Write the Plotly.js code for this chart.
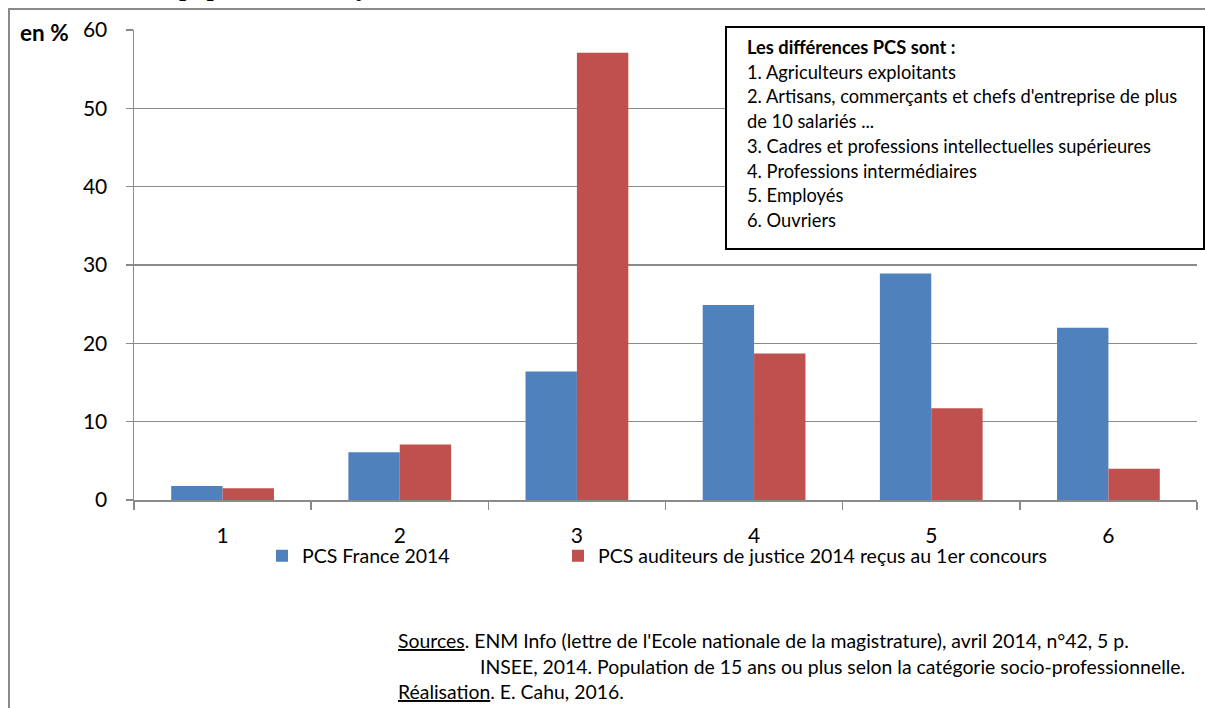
<!DOCTYPE html>
<html>
<head>
<meta charset="utf-8">
<script src="https://cdn.plot.ly/plotly-3.0.1.min.js"></script>
<style>
html,body{margin:0;padding:0;background:#fff;}
#chart{width:1205px;height:708px;}
</style>
</head>
<body>
<div id="chart"></div>
<script>
// ---- data ----
var categories = ["1", "2", "3", "4", "5", "6"];
var pcsFrance = [1.8, 6.1, 16.4, 24.9, 28.9, 22.0];
var pcsAuditeurs = [1.5, 7.1, 57.1, 18.7, 11.7, 4.0];
var seriesNames = ["PCS France 2014", "PCS auditeurs de justice 2014 reçus au 1er concours"];
var yTicks = [0, 10, 20, 30, 40, 50, 60];
var boxTitle = "Les différences PCS sont :";
var boxLines = [
  "1. Agriculteurs exploitants",
  "2. Artisans, commerçants et chefs d'entreprise de plus",
  "de 10 salariés ...",
  "3. Cadres et professions intellectuelles supérieures",
  "4. Professions intermédiaires",
  "5. Employés",
  "6. Ouvriers"
];
var sourceLines = [
  "<u>Sources</u>. ENM Info (lettre de l'Ecole nationale de la magistrature), avril 2014, n°42, 5 p.",
  "INSEE, 2014. Population de 15 ans ou plus selon la catégorie socio-professionnelle.",
  "<u>Réalisation</u>. E. Cahu, 2016."
];
var topTitle = "ne et la population française.";
var yUnit = "en %";

// ---- geometry helpers (page pixels -> paper) ----
var W = 1205, H = 708;
var L = 134, R = 1197, T = 30, B = 500;
function px(x) { return (x - L) / (R - L); }
function py(y) { return (B - y) / (B - T); }

var FONT = "Lato, 'Open Sans', sans-serif";
var grid = "#8a8a8a";

var traces = [
  {type: "bar", x: categories, y: pcsFrance, name: seriesNames[0], legend: "legend",
   marker: {color: "#4F81BD", line: {width: 0}}},
  {type: "bar", x: categories, y: pcsAuditeurs, name: seriesNames[1], legend: "legend2",
   marker: {color: "#C0504D", line: {width: 0}}}
];

var annotations = [];
// top clipped title
annotations.push({xref: "paper", yref: "paper", x: px(415), y: py(4),
  xanchor: "right", yanchor: "bottom", showarrow: false, text: "<b>" + topTitle + "</b>",
  font: {family: "'Liberation Serif', serif", size: 26, color: "#000"}});
// y unit
annotations.push({xref: "paper", yref: "paper", x: px(18), y: py(33),
  xanchor: "left", yanchor: "middle", showarrow: false, text: "<b>" + yUnit + "</b>",
  font: {family: FONT, size: 22.5, color: "#000"}});
// box text
var boxY0 = 47, boxDy = 24.7, boxFont = 18.3;
annotations.push({xref: "paper", yref: "paper", x: px(745), y: py(boxY0),
  xanchor: "left", yanchor: "middle", showarrow: false, text: "<b>" + boxTitle + "</b>",
  font: {family: FONT, size: boxFont, color: "#000"}});
boxLines.forEach(function (t, i) {
  annotations.push({xref: "paper", yref: "paper", x: px(745), y: py(boxY0 + boxDy * (i + 1)),
    xanchor: "left", yanchor: "middle", showarrow: false, text: t,
    font: {family: FONT, size: boxFont, color: "#000"}});
});
// sources
var srcX = [396, 478, 396], srcY = [640, 666, 691];
sourceLines.forEach(function (t, i) {
  annotations.push({xref: "paper", yref: "paper", x: px(srcX[i]), y: py(srcY[i]),
    xanchor: "left", yanchor: "middle", showarrow: false, text: t,
    font: {family: FONT, size: 19.4, color: "#000"}});
});

var shapes = [
  // outer frame
  {type: "rect", xref: "paper", yref: "paper", x0: px(9), y0: py(9), x1: px(1212), y1: py(720),
   line: {color: "#8a8a8a", width: 2}, fillcolor: "rgba(0,0,0,0)", layer: "below"},
  // text box
  {type: "rect", xref: "paper", yref: "paper", x0: px(726), y0: py(27), x1: px(1204), y1: py(249),
   line: {color: "#000", width: 2}, fillcolor: "#fff", layer: "above"}
];

var legendFont = {family: FONT, size: 19.5, color: "#000"};
var layout = {
  width: W, height: H,
  margin: {l: L, r: W - R, t: T, b: H - B, pad: 0},
  paper_bgcolor: "#fff", plot_bgcolor: "#fff",
  font: {family: FONT, color: "#000"},
  barmode: "group", bargap: 0.42, bargroupgap: 0,
  showlegend: true,
  legend: {orientation: "h", x: px(262), y: py(556), xanchor: "left", yanchor: "middle",
    font: legendFont, bgcolor: "rgba(0,0,0,0)"},
  legend2: {orientation: "h", x: px(558), y: py(556), xanchor: "left", yanchor: "middle",
    font: legendFont, bgcolor: "rgba(0,0,0,0)"},
  xaxis: {type: "category", tickson: "boundaries", ticks: "outside", ticklen: 8, tickwidth: 1.5,
    tickcolor: grid, showline: true, linecolor: grid, linewidth: 1.5, showgrid: false,
    tickfont: {family: FONT, size: 21, color: "#000"}, ticklabelstandoff: 16, fixedrange: true},
  yaxis: {range: [0, 60], tickvals: yTicks, ticks: "outside", ticklen: 7, tickwidth: 1.5,
    tickcolor: grid, showline: true, linecolor: grid, linewidth: 1.5, showgrid: true,
    gridcolor: grid, gridwidth: 1.5, zeroline: false,
    tickfont: {family: FONT, size: 21, color: "#000"}, ticklabelstandoff: 14, fixedrange: true},
  annotations: annotations,
  shapes: shapes
};

Plotly.newPlot("chart", traces, layout, {displayModeBar: false, staticPlot: true});
</script>
</body>
</html>
